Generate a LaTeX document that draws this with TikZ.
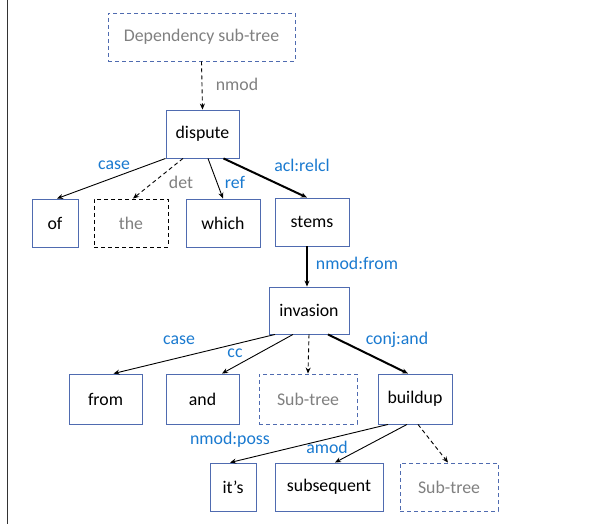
\documentclass[tikz,border=0pt]{standalone}
\usepackage{fontspec}
\setmainfont{Carlito}
\usetikzlibrary{arrows.meta}
\definecolor{boxblue}{HTML}{4F6BB0}
\definecolor{lblblue}{HTML}{1A7AD0}
\definecolor{txtgray}{HTML}{808080}
\tikzset{
  wbox/.style={draw=boxblue, line width=0.9pt, minimum height=48pt, inner sep=0pt, font=\fontsize{17.8}{20}\selectfont, text=black},
  subbox/.style={wbox, dash pattern=on 4pt off 3pt, text=txtgray},
  thebox/.style={wbox, draw=black, dash pattern=on 4pt off 3pt, text=txtgray},
  lbl/.style={font=\fontsize{17.8}{20}\selectfont, text=lblblue, inner sep=0pt},
  glbl/.style={lbl, text=txtgray},
  arr/.style={-{Stealth[length=6pt,width=5pt]}, line width=0.9pt},
  tarr/.style={arr, line width=2pt},
  darr/.style={arr, dash pattern=on 4pt off 3pt},
}
\begin{document}
\begin{tikzpicture}[x=1pt,y=-1pt]
\useasboundingbox (0,0) rectangle (590,524);
\fill[white] (0,0) rectangle (590,524);
\draw[line width=1.5pt, color=black!80] (7.5,0) -- (7.5,524);

\node[subbox, minimum width=187pt] (dep) at (201.5,37) {Dependency sub-tree};
\node[wbox, minimum width=73pt] (dispute) at (202.5,134) {dispute};
\node[wbox, minimum width=46pt] (of) at (55,223) {of};
\node[thebox, minimum width=74pt] (the) at (131,223) {the};
\node[wbox, minimum width=74pt] (which) at (223,223) {which};
\node[wbox, minimum width=74pt] (stems) at (312,222) {stems};
\node[wbox, minimum width=80pt, minimum height=47pt] (invasion) at (309,310.5) {invasion};
\node[wbox, minimum width=73pt, minimum height=50pt] (from) at (105.5,399) {from};
\node[wbox, minimum width=73pt, minimum height=50pt] (and) at (202.5,399) {and};
\node[subbox, minimum width=98pt, minimum height=50pt] (sub1) at (308,399) {Sub-tree};
\node[wbox, minimum width=74pt, minimum height=50pt] (buildup) at (415,399) {buildup};
\node[wbox, minimum width=46pt] (its) at (233,487) {it’s};
\node[wbox, minimum width=108pt] (subseq) at (329,487) {subsequent};
\node[subbox, minimum width=98pt] (sub2) at (449,487) {Sub-tree};

% connectors
\draw[darr] (dep.south) -- (dispute.north);
\draw[arr] (dispute.south west) -- ([xshift=2pt]of.north);
\draw[darr] ([xshift=-19.5pt]dispute.south) -- ([xshift=2pt]the.north);
\draw[arr] ([xshift=5.5pt]dispute.south) -- (which.north);
\draw[tarr] ([xshift=21pt]dispute.south) -- ([xshift=-5pt]stems.north);
\draw[tarr] ([xshift=-5pt]stems.south) -- ([xshift=-2pt]invasion.north);
\draw[arr] ([xshift=-34pt]invasion.south) -- ([xshift=8pt]from.north);
\draw[arr] ([xshift=-16pt]invasion.south) -- ([xshift=19.5pt]and.north);
\draw[darr] (invasion.south) -- (sub1.north);
\draw[tarr] ([xshift=19pt]invasion.south) -- ([xshift=-7pt]buildup.north);
\draw[arr] ([xshift=-27pt]buildup.south) -- ([xshift=-3pt]its.north);
\draw[arr] ([xshift=-8pt]buildup.south) -- ([xshift=6pt]subseq.north);
\draw[darr] ([xshift=3pt]buildup.south) -- ([xshift=-1pt]sub2.north);

% labels
\node[glbl] (l1) at (237,84) {nmod};
\node[lbl] (l2) at (114,165) {case};
\node[lbl] (l3) at (302,165) {acl:relcl};
\node[glbl] (l4) at (181,182) {det};
\node[lbl] (l5) at (235,182) {ref};
\node[lbl] (l6) at (357,263) {nmod:from};
\node[lbl] (l7) at (179,340) {case};
\node[lbl] (l8) at (397,340) {conj:and};
\node[lbl] (l9) at (235,353) {cc};
\node[lbl] (l10) at (230,440) {nmod:poss};
\node[lbl] (l11) at (327,447) {amod};
\end{tikzpicture}
\end{document}
